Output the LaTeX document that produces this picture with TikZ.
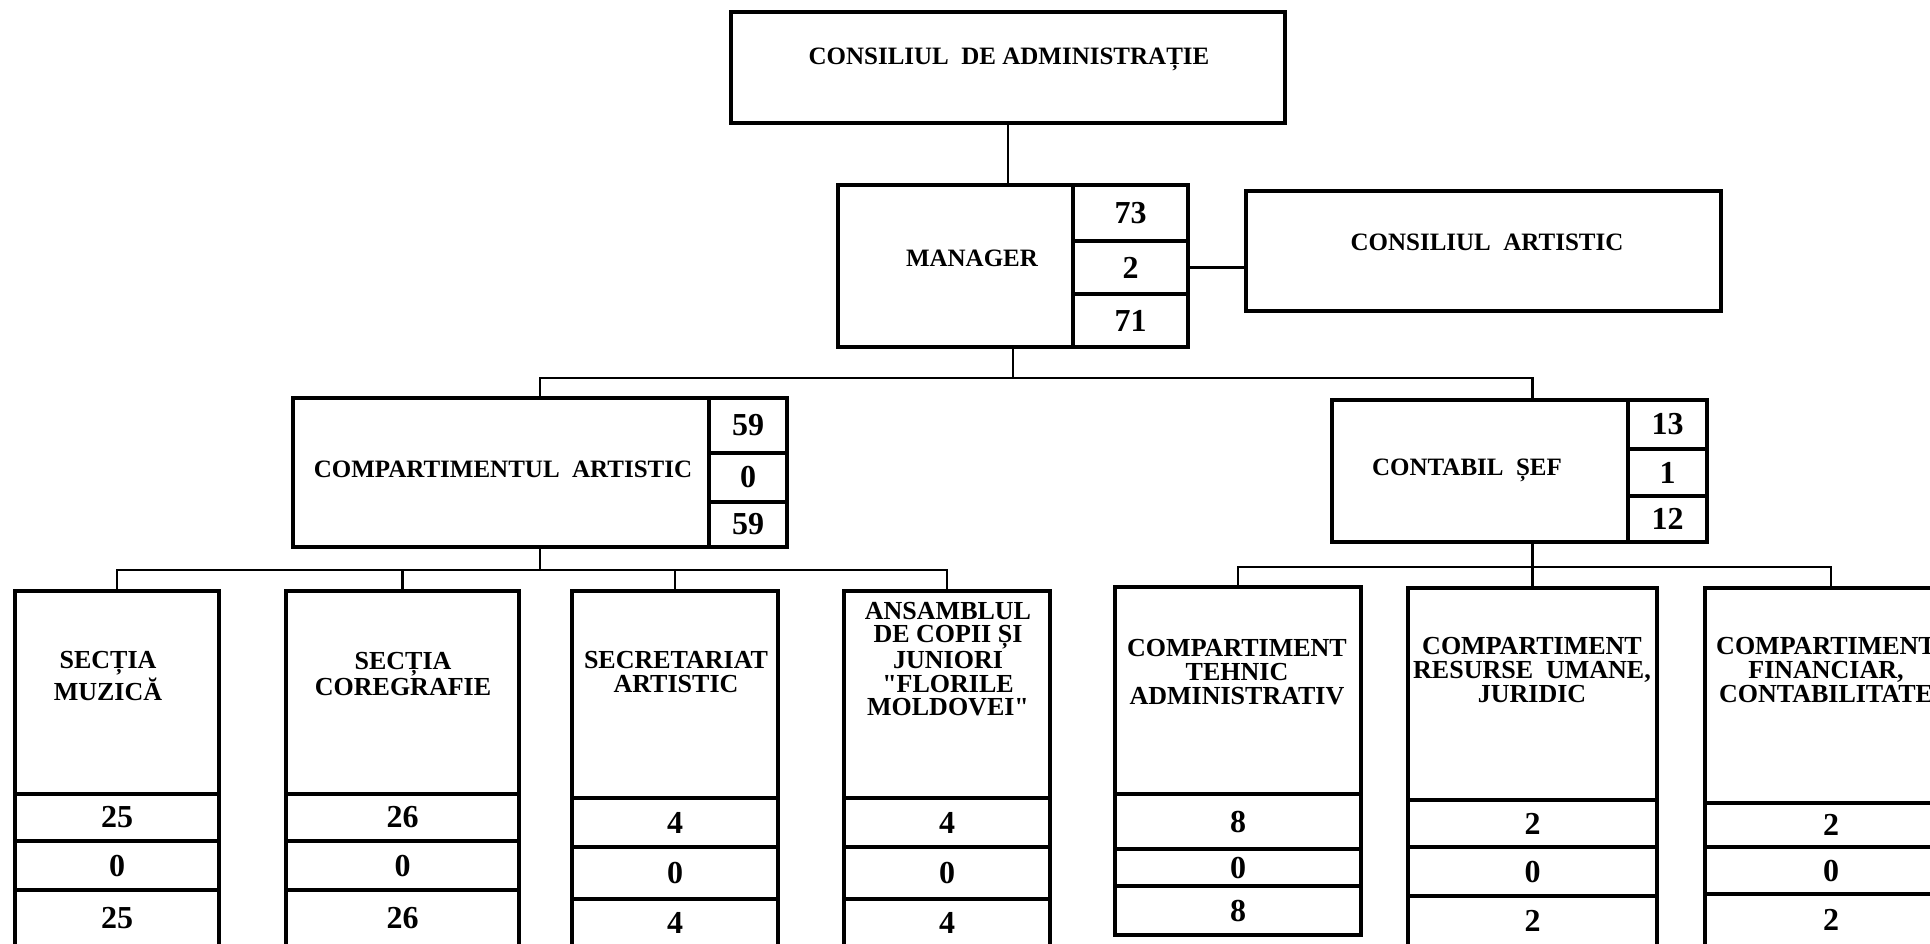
\documentclass[tikz,border=0pt]{standalone}
\usepackage{fontspec}
\setmainfont{Liberation Serif}
\newfontfamily\plainqfont{Liberation Serif}
\usetikzlibrary{fit,calc}
\newcommand{\sq}{{\plainqfont\bfseries"}}
\tikzset{
  frame/.style={draw, line width=2.3pt, inner sep=0pt},
  num/.style={font=\fontsize{16}{16}\selectfont\bfseries, inner sep=0pt},
  lbl/.style={font=\fontsize{12.5}{12}\selectfont\bfseries, align=center, inner sep=0pt},
  sublbl/.style={font=\fontsize{13}{11.8}\selectfont\bfseries, align=center, inner sep=0pt},
  conn/.style={line width=1.2pt},
}
\begin{document}
\begin{tikzpicture}[x=0.5pt,y=-0.5pt]
\useasboundingbox (0,0) rectangle (1930,943);
\clip (0,0) rectangle (1930,943);

% top levels
\node[frame, fit={(731,12) (1285,123)}] (cda) {};
\node[lbl] (cdat) at (1009,59) {CONSILIUL\ \ DE ADMINISTRAȚIE};

\node[frame, fit={(838,185) (1188,347)}] (mgr) {};
\node[lbl] (mgrt) at (972,258) {MANAGER};
\node[frame, fit={(1073,185) (1188,241)}] (m1) {};
\node[frame, fit={(1073,241) (1188,294)}] (m2) {};
\node[frame, fit={(1073,294) (1188,347)}] (m3) {};
\node[num] at (m1) {73};
\node[num] at (m2) {2};
\node[num] at (m3) {71};

\node[frame, fit={(1246,191) (1721,311)}] (cart) {};
\node[lbl] (cartt) at (1487,242) {CONSILIUL\ \ ARTISTIC};

\node[frame, fit={(293,398) (787,547)}] (ca) {};
\node[lbl] (cat) at (503,469) {COMPARTIMENTUL\ \ ARTISTIC};
\node[frame, fit={(709,398) (787,453)}] (ca1) {};
\node[frame, fit={(709,453) (787,502)}] (ca2) {};
\node[frame, fit={(709,502) (787,547)}] (ca3) {};
\node[num] at (ca1) {59};
\node[num] at (ca2) {0};
\node[num] at (ca3) {59};

\node[frame, fit={(1332,400) (1707,542)}] (cs) {};
\node[lbl] (cst) at (1467,470) {CONTABIL\ \ ȘEF};
\node[frame, fit={(1628,400) (1707,449)}] (cs1) {};
\node[frame, fit={(1628,449) (1707,496)}] (cs2) {};
\node[frame, fit={(1628,496) (1707,542)}] (cs3) {};
\node[num] at (cs1) {13};
\node[num] at (cs2) {1};
\node[num] at (cs3) {12};

% bottom left
\node[frame, fit={(15,591) (219,946)}] (muz) {};
\node[sublbl] (muzt) at (108,676) {SECȚIA\\MUZICĂ};
\node[frame, fit={(15,794) (219,841)}] (muz1) {};
\node[frame, fit={(15,841) (219,890)}] (muz2) {};
\node[frame, fit={(15,890) (219,946)}] (muz3) {};
\node[num] at (muz1) {25};
\node[num] at (muz2) {0};
\node[num] at (muz3) {25};

\node[frame, fit={(286,591) (519,946)}] (cor) {};
\node[sublbl] (cort) at (403,674) {SECȚIA\\COREGRAFIE};
\node[frame, fit={(286,794) (519,841)}] (cor1) {};
\node[frame, fit={(286,841) (519,890)}] (cor2) {};
\node[frame, fit={(286,890) (519,946)}] (cor3) {};
\node[num] at (cor1) {26};
\node[num] at (cor2) {0};
\node[num] at (cor3) {26};

\node[frame, fit={(572,591) (778,946)}] (sec) {};
\node[sublbl] (sect) at (676,672) {SECRETARIAT\\ARTISTIC};
\node[frame, fit={(572,798) (778,847)}] (sec1) {};
\node[frame, fit={(572,847) (778,899)}] (sec2) {};
\node[frame, fit={(572,899) (778,946)}] (sec3) {};
\node[num] at (sec1) {4};
\node[num] at (sec2) {0};
\node[num] at (sec3) {4};

\node[frame, fit={(844,591) (1050,946)}] (ans) {};
\node[sublbl] (anst) at (948,659) {ANSAMBLUL\\DE COPII ȘI\\JUNIORI\\\sq FLORILE\\MOLDOVEI\sq};
\node[frame, fit={(844,798) (1050,847)}] (ans1) {};
\node[frame, fit={(844,847) (1050,899)}] (ans2) {};
\node[frame, fit={(844,899) (1050,946)}] (ans3) {};
\node[num] at (ans1) {4};
\node[num] at (ans2) {0};
\node[num] at (ans3) {4};

% bottom right
\node[frame, fit={(1115,587) (1361,935)}] (teh) {};
\node[sublbl] (teht) at (1237,672) {COMPARTIMENT\\TEHNIC\\ADMINISTRATIV};
\node[frame, fit={(1115,794) (1361,849)}] (teh1) {};
\node[frame, fit={(1115,849) (1361,886)}] (teh2) {};
\node[frame, fit={(1115,886) (1361,935)}] (teh3) {};
\node[num] at (teh1) {8};
\node[num] at (teh2) {0};
\node[num] at (teh3) {8};

\node[frame, fit={(1408,588) (1657,946)}] (res) {};
\node[sublbl] (rest) at (1532,670) {COMPARTIMENT\\RESURSE\ \ UMANE,\\JURIDIC};
\node[frame, fit={(1408,800) (1657,847)}] (res1) {};
\node[frame, fit={(1408,847) (1657,896)}] (res2) {};
\node[frame, fit={(1408,896) (1657,946)}] (res3) {};
\node[num] at (res1) {2};
\node[num] at (res2) {0};
\node[num] at (res3) {2};

\node[frame, fit={(1705,588) (1957,946)}] (fin) {};
\node[sublbl] (fint) at (1826,670) {COMPARTIMENT\\FINANCIAR,\\CONTABILITATE};
\node[frame, fit={(1705,803) (1957,847)}] (fin1) {};
\node[frame, fit={(1705,847) (1957,894)}] (fin2) {};
\node[frame, fit={(1705,894) (1957,946)}] (fin3) {};
\node[num] at (fin1) {2};
\node[num] at (fin2) {0};
\node[num] at (fin3) {2};

% connectors
\coordinate (b1) at (0,378);
\coordinate (b2) at (0,570);
\coordinate (b3) at (0,567);
\draw[conn] (cda.south) -- (cda.south |- mgr.north);
\draw[conn] (m2.east) -- (m2.east -| cart.west);
\draw[conn] (mgr.south) -- (mgr.south |- b1);
\draw[conn] (ca.north) -- (ca.north |- b1) -- (b1 -| res.north) -- (cs.north -| res.north);
\draw[conn] (ca.south) -- (ca.south |- b2);
\draw[conn] (muz.north) -- (muz.north |- b2) -- (ans.north |- b2) -- (ans.north);
\draw[conn] (cor.north) -- (cor.north |- b2);
\draw[conn] (sec.north) -- (sec.north |- b2);
\draw[conn] (cs.south -| res.north) -- (res.north);
\draw[conn] (teh.north) -- (teh.north |- b3) -- (fin.north |- b3) -- (fin.north);
\end{tikzpicture}
\end{document}
